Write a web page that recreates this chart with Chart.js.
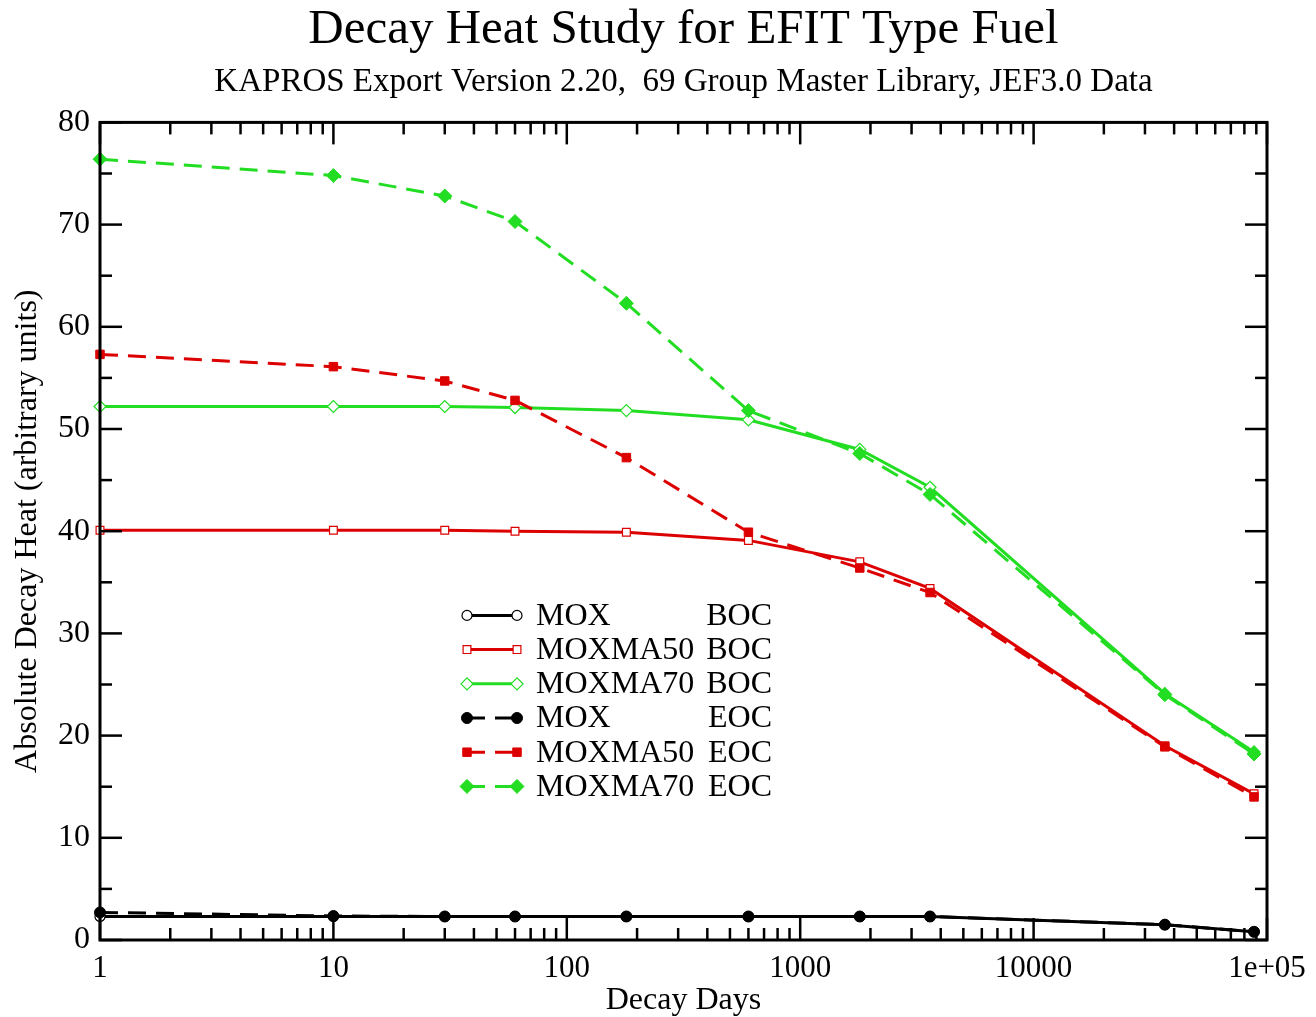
<!DOCTYPE html>
<html>
<head>
<meta charset="utf-8">
<script src="https://cdn.jsdelivr.net/npm/chart.js@4/dist/chart.umd.min.js"></script>
<style>
  html, body { margin: 0; padding: 0; background: #fff; }
  #wrap { width: 1316px; height: 1017px; }
</style>
</head>
<body>
<div id="wrap"><canvas id="c" width="1316" height="1017"></canvas></div>
<script>
// ---- data ----
const decayDays = [1, 10, 30, 60, 180, 600, 1800, 3600, 36500, 88000];
const moxBOC      = [2.3, 2.3, 2.3, 2.3, 2.3, 2.3, 2.3, 2.3, 1.5, 0.8];
const moxma50BOC  = [40.1, 40.1, 40.1, 40.0, 39.9, 39.1, 37.0, 34.4, 19.0, 14.3];
const moxma70BOC  = [52.2, 52.2, 52.2, 52.1, 51.8, 50.9, 48.0, 44.3, 24.1, 18.4];
const moxEOC      = [2.7, 2.35, 2.3, 2.3, 2.3, 2.3, 2.3, 2.3, 1.5, 0.8];
const moxma50EOC  = [57.3, 56.1, 54.7, 52.8, 47.2, 39.9, 36.4, 34.0, 18.9, 14.0];
const moxma70EOC  = [76.4, 74.8, 72.8, 70.3, 62.3, 51.8, 47.6, 43.6, 24.0, 18.2];
const seriesNames = ['MOX', 'MOXMA50', 'MOXMA70', 'MOX', 'MOXMA50', 'MOXMA70'];
const seriesPhase = ['BOC', 'BOC', 'BOC', 'EOC', 'EOC', 'EOC'];
const xMajorTicks = [1, 10, 100, 1000, 10000, 100000];
const xTickLabels = ['1', '10', '100', '1000', '10000', '1e+05'];
const titleText = 'Decay Heat Study for EFIT Type Fuel';
const subtitleText = 'KAPROS Export Version 2.20,  69 Group Master Library, JEF3.0 Data';
const xTitle = 'Decay Days';
const yTitle = 'Absolute Decay Heat (arbitrary units)';

// ---- styles ----
const FONT = '"Liberation Serif", "DejaVu Serif", serif';
const BLACK = '#000000', RED = '#dd0000', GREEN = '#22dd22';
const DASH = [18, 10];

function pts(vals) { return decayDays.map((d, i) => ({ x: d, y: vals[i] })); }

const seriesVals = [moxBOC, moxma50BOC, moxma70BOC, moxEOC, moxma50EOC, moxma70EOC];
const colors = [BLACK, RED, GREEN, BLACK, RED, GREEN];
const styles = ['circle', 'rect', 'rectRot', 'circle', 'rect', 'rectRot'];
const radii  = [5, 5.5, 6, 5.5, 6, 7];

const datasets = seriesVals.map((vals, i) => {
  const eoc = i >= 3;
  return {
    label: seriesNames[i] + ' ' + seriesPhase[i],
    data: pts(vals),
    borderColor: colors[i],
    backgroundColor: eoc ? colors[i] : '#ffffff',
    pointBackgroundColor: eoc ? colors[i] : '#ffffff',
    pointBorderColor: colors[i],
    pointBorderWidth: eoc ? 1 : 1.2,
    pointStyle: styles[i],
    pointRadius: radii[i],
    borderWidth: 3,
    borderDash: eoc ? DASH : [],
    tension: 0,
    fill: false,
    clip: false,
    order: 5 - i
  };
});

// frame + inward ticks on all four sides
const MAJ = 22, MIN = 12;
const framePlugin = {
  id: 'frame',
  afterDatasetsDraw(chart) {
    const { ctx, chartArea: { left, right, top, bottom }, scales: { x, y } } = chart;
    ctx.save();
    ctx.strokeStyle = '#000';
    ctx.lineWidth = 2.5;
    const seg = (x1, y1, x2, y2) => { ctx.beginPath(); ctx.moveTo(x1, y1); ctx.lineTo(x2, y2); ctx.stroke(); };
    xMajorTicks.forEach((v, k) => {
      const px = x.getPixelForValue(v);
      seg(px, bottom, px, bottom - MAJ); seg(px, top, px, top + MAJ);
      if (k < xMajorTicks.length - 1) {
        for (let m = 2; m <= 9; m++) {
          const mx = x.getPixelForValue(v * m);
          seg(mx, bottom, mx, bottom - MIN); seg(mx, top, mx, top + MIN);
        }
      }
    });
    for (let v = 0; v <= 80; v += 5) {
      const py = y.getPixelForValue(v);
      const L = (v % 10 === 0) ? MAJ : MIN;
      seg(left, py, left + L, py); seg(right, py, right - L, py);
    }
    ctx.lineWidth = 3;
    ctx.strokeRect(left, top, right - left, bottom - top);
    ctx.restore();
  }
};

// legend drawn inside plot area
const legendPlugin = {
  id: 'innerLegend',
  afterDraw(chart) {
    const { ctx, chartArea } = chart;
    const x0 = chartArea.left + 367, lineLen = 50;
    const textX = chartArea.left + 436, textRight = chartArea.left + 672;
    const row0 = chartArea.top + 493, rowH = 34.2;
    ctx.save();
    ctx.font = '32px ' + FONT;
    ctx.textBaseline = 'middle';
    chart.data.datasets.forEach((ds, i) => {
      const yy = row0 + i * rowH;
      ctx.strokeStyle = ds.borderColor;
      ctx.lineWidth = 3;
      ctx.setLineDash(ds.borderDash || []);
      ctx.beginPath(); ctx.moveTo(x0, yy); ctx.lineTo(x0 + lineLen, yy); ctx.stroke();
      ctx.setLineDash([]);
      const opts = { pointStyle: ds.pointStyle, radius: ds.pointRadius, rotation: 0, borderWidth: ds.pointBorderWidth };
      [x0, x0 + lineLen].forEach(px => {
        ctx.fillStyle = ds.pointBackgroundColor;
        ctx.strokeStyle = ds.pointBorderColor;
        ctx.lineWidth = ds.pointBorderWidth;
        Chart.helpers.drawPoint(ctx, opts, px, yy);
      });
      ctx.fillStyle = '#000';
      ctx.textAlign = 'left';
      ctx.fillText(seriesNames[i], textX, yy + 1);
      ctx.textAlign = 'right';
      ctx.fillText(seriesPhase[i], textRight, yy + 1);
    });
    ctx.restore();
  }
};

new Chart(document.getElementById('c'), {
  type: 'line',
  data: { datasets },
  plugins: [framePlugin, legendPlugin],
  options: {
    responsive: false,
    animation: false,
    devicePixelRatio: 1,
    layout: { padding: { left: 0, right: 49, top: 0, bottom: 0 } },
    plugins: {
      legend: { display: false },
      tooltip: { enabled: false },
      title: {
        display: true, text: titleText, color: '#000', fullSize: false,
        font: { family: FONT, size: 49, weight: 'normal', lineHeight: 1.2 },
        padding: { top: 1, bottom: 0 }
      },
      subtitle: {
        display: true, text: subtitleText, color: '#000', fullSize: false,
        font: { family: FONT, size: 33, weight: 'normal', lineHeight: 1.2 },
        padding: { top: 3, bottom: 20 }
      }
    },
    scales: {
      x: {
        type: 'logarithmic',
        position: 'bottom',
        min: 1, max: 100000,
        afterBuildTicks(scale) { scale.ticks = xMajorTicks.map(v => ({ value: v, major: true })); },
        afterFit(scale) { scale.height = 77; },
        ticks: {
          color: '#000', autoSkip: false, maxRotation: 0, padding: 10,
          font: { family: FONT, size: 31 },
          callback(value, index) { return xTickLabels[index]; }
        },
        grid: { display: false, drawTicks: false },
        border: { display: false },
        title: {
          display: true, text: xTitle, color: '#000',
          font: { family: FONT, size: 32, lineHeight: 1.0 },
          padding: { top: 0, bottom: 0 }
        }
      },
      y: {
        type: 'linear',
        min: 0, max: 80,
        afterFit(scale) { scale.width = 100; },
        ticks: {
          stepSize: 10, color: '#000', padding: 10,
          font: { family: FONT, size: 32 }
        },
        grid: { display: false, drawTicks: false },
        border: { display: false },
        title: {
          display: true, text: yTitle, color: '#000',
          font: { family: FONT, size: 32, lineHeight: 1.2 },
          padding: { top: 8, bottom: 0 }
        }
      }
    }
  }
});
</script>
</body>
</html>
